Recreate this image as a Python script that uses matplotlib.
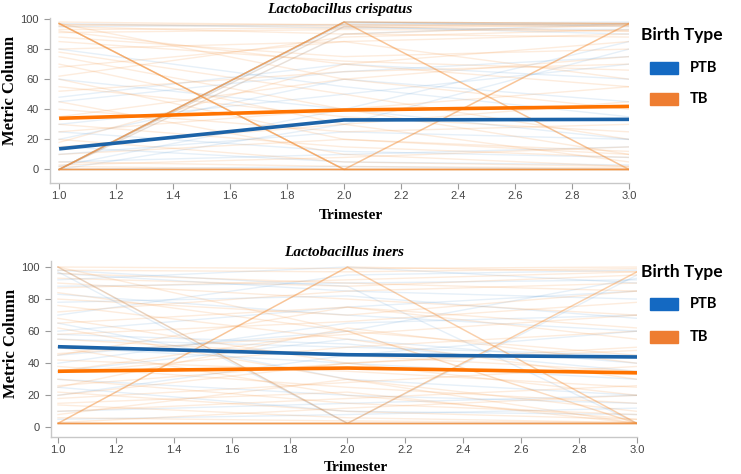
import matplotlib
matplotlib.use("Agg")
import matplotlib.pyplot as plt
from matplotlib.patches import Rectangle

trimesters = [1.0, 2.0, 3.0]
x_ticks = [1.0, 1.2, 1.4, 1.6, 1.8, 2.0, 2.2, 2.4, 2.6, 2.8, 3.0]
y_ticks = [0, 20, 40, 60, 80, 100]
groups = ["PTB", "TB"]
titles = ["Lactobacillus crispatus", "Lactobacillus iners"]

# ---- Lactobacillus crispatus: individual trajectories (T1, T2, T3) ----
crisp_tb = [
    (97, 97, 97), (96, 95, 97), (98, 96, 95), (93, 94, 96), (91, 93, 92),
    (95, 90, 88), (97, 60, 40), (92, 70, 55), (88, 75, 80), (80, 85, 90),
    (78, 50, 20), (75, 40, 10), (70, 30, 5), (68, 85, 60), (60, 20, 10),
    (55, 35, 25), (52, 65, 70), (45, 10, 2), (40, 25, 30), (35, 60, 75),
    (30, 15, 8), (25, 40, 55), (20, 5, 2), (15, 30, 45), (10, 20, 12),
    (5, 2, 1), (3, 8, 15), (2, 0, 0), (85, 72, 66), (62, 88, 93),
    (0, 98, 0), (0, 98, 0), (0, 98, 0), (0, 98, 0), (97, 0, 97), (97, 0, 97),
    (97, 0, 97), (97, 0, 97), (0, 98, 97), (0, 98, 97), (0, 98, 97),
    (97, 0, 0), (97, 0, 0), (97, 0, 0),
    (0, 0, 0), (0, 0, 0), (0, 0, 0), (0, 0, 0), (0, 0, 0), (0, 0, 0),
    (0, 0, 0), (0, 0, 0), (0, 0, 0), (0, 0, 0),
    (0, 95, 92), (0, 90, 96), (18, 70, 85),
]
crisp_ptb = [
    (0, 98, 96), (0, 95, 90), (0, 90, 97), (48, 70, 60), (60, 40, 20),
    (45, 65, 75), (20, 60, 45), (5, 10, 15), (0, 2, 0), (0, 0, 0),
    (95, 96, 97), (80, 55, 35), (30, 50, 70),
    (15, 5, 3), (10, 25, 20), (2, 40, 85), (25, 12, 8), (0, 30, 80),
    (0, 98, 95), (0, 97, 98), (97, 94, 93),
]
crisp_mean_ptb = [13.7, 32.9, 33.3]
crisp_mean_tb = [34.0, 39.5, 41.9]

# ---- Lactobacillus iners: individual trajectories (T1, T2, T3) ----
iners_tb = [
    (100, 99, 100), (98, 97, 99), (96, 90, 85), (93, 88, 95), (90, 80, 70),
    (87, 92, 97), (84, 60, 45), (80, 70, 85), (76, 55, 30), (72, 85, 90),
    (68, 40, 20), (65, 75, 62), (62, 30, 10), (58, 66, 78), (55, 45, 35),
    (50, 20, 5), (46, 58, 70), (42, 35, 25), (38, 25, 15), (34, 50, 60),
    (30, 15, 8), (26, 40, 48), (22, 10, 5), (18, 28, 38), (14, 6, 3),
    (10, 18, 26), (6, 4, 3), (3, 12, 20), (25, 62, 40), (45, 75, 55),
    (2.5, 100, 2.5), (2.5, 100, 2.5), (2.5, 100, 2.5), (100, 2.5, 97),
    (2.5, 2.5, 97), (2.5, 2.5, 97), (2.5, 100, 97), (100, 60, 2.5),
    (100, 2.5, 2.5),
    (2.5, 2.5, 2.5), (2.5, 2.5, 2.5), (2.5, 2.5, 2.5), (2.5, 2.5, 2.5),
    (2.5, 2.5, 2.5), (2.5, 2.5, 2.5), (2.5, 2.5, 2.5), (2.5, 2.5, 2.5),
    (2.5, 2.5, 2.5), (2.5, 2.5, 2.5),
    (15, 22, 2.5), (8, 30, 2.5), (35, 60, 2.5), (20, 40, 50),
]
iners_ptb = [
    (100, 2.5, 95), (96, 85, 80), (88, 90, 92), (83, 70, 60), (60, 75, 85),
    (55, 50, 45), (50, 40, 30), (40, 65, 70), (30, 20, 15), (10, 15, 20),
    (5, 8, 12), (2.5, 2.5, 2.5), (70, 95, 98), (20, 45, 60),
    (92, 100, 90), (65, 30, 20), (35, 55, 40), (78, 82, 68), (45, 60, 93),
    (58, 52, 35), (98, 88, 2.5), (25, 10, 8), (97, 2.5, 2.5),
]
iners_mean_ptb = [50.3, 45.3, 43.9]
iners_mean_tb = [35.0, 37.0, 34.0]

panels = [
    (crisp_ptb, crisp_tb, crisp_mean_ptb, crisp_mean_tb),
    (iners_ptb, iners_tb, iners_mean_ptb, iners_mean_tb),
]

ind_colors = {"PTB": "#5b9bd5", "TB": "#f5913a"}
mean_colors = {"PTB": "#1c63a8", "TB": "#ff7300"}
legend_colors = {"PTB": "#1469c2", "TB": "#ee7d31"}

fig = plt.figure(figsize=(7.41, 4.74), dpi=100)

axes_rects = [
    [50 / 741, 1 - 183 / 474, (629 - 50) / 741, (183 - 17.5) / 474],
    [51 / 741, 1 - 437 / 474, (637 - 51) / 741, (437 - 260.6) / 474],
]
ylims = [(-9, 101), (-6, 104)]
xlims = [(0.968, 3.0), (0.976, 3.0)]
# x-label bottom edge position (pixels from figure top)
xlabel_bottom_px = [222, 474]

serif = "Liberation Serif"
sans = "Liberation Sans"

for i, (ptb, tb, m_ptb, m_tb) in enumerate(panels):
    ax = fig.add_axes(axes_rects[i])
    for row in ptb:
        ax.plot(trimesters, row, color=ind_colors["PTB"], alpha=0.15, lw=1.0, zorder=1)
    for row in tb:
        ax.plot(trimesters, row, color=ind_colors["TB"], alpha=0.17, lw=1.0, zorder=2)
    ax.plot(trimesters, m_tb, color=mean_colors["TB"], lw=2.6, zorder=3,
            solid_capstyle="butt")
    ax.plot(trimesters, m_ptb, color=mean_colors["PTB"], lw=2.6, zorder=3,
            solid_capstyle="butt")
    ax.set_xlim(*xlims[i])
    ax.set_ylim(*ylims[i])
    ax.set_xticks(x_ticks)
    ax.set_xticklabels([f"{v:.1f}" for v in x_ticks])
    ax.set_yticks(y_ticks)
    for s in ["top", "right"]:
        ax.spines[s].set_visible(False)
    for s in ["left", "bottom"]:
        ax.spines[s].set_color("#c8c8c8")
        ax.spines[s].set_linewidth(1.0)
    ax.tick_params(axis="both", colors="#9a9a9a", labelcolor="#444444",
                   labelsize=8, length=4, width=0.8, pad=4)
    ax.tick_params(axis="x", pad=2)
    for lab in ax.get_xticklabels() + ax.get_yticklabels():
        lab.set_fontfamily(sans)
    ax.set_title(titles[i], fontsize=11, fontweight="bold", fontstyle="italic",
                 family=serif, pad=3)
    ax.set_xlabel("Trimester", fontsize=11, fontweight="bold", family=serif)
    ax.xaxis.label.set_va("bottom")
    ax_h_px = axes_rects[i][3] * 474
    ax_bottom_px = (1 - axes_rects[i][1]) * 474
    ax.xaxis.set_label_coords(0.52, -(xlabel_bottom_px[i] - ax_bottom_px) / ax_h_px)
    ax.set_ylabel("Metric Column", fontsize=12, fontweight="bold", family=serif)
    ax.yaxis.set_label_coords(-0.055, 0.56 if i == 0 else 0.53)

legend_layout = [
    (35, 68, 99),
    (272, 304, 337),
]
for title_y, ptb_y, tb_y in legend_layout:
    fig.text(641 / 741, 1 - title_y / 474, "Birth Type", fontsize=12.5,
             fontweight="bold", family="Lato", va="center", ha="left")
    for g, gy in zip(groups, (ptb_y, tb_y)):
        fig.patches.append(Rectangle((650 / 741, 1 - (gy + 6) / 474), 28 / 741, 12 / 474,
                                     transform=fig.transFigure, color=legend_colors[g]))
        fig.text(690 / 741, 1 - gy / 474, g, fontsize=10.5, fontweight="bold",
                 family="Lato", va="center", ha="left")

fig.savefig("out.png", dpi=100)
